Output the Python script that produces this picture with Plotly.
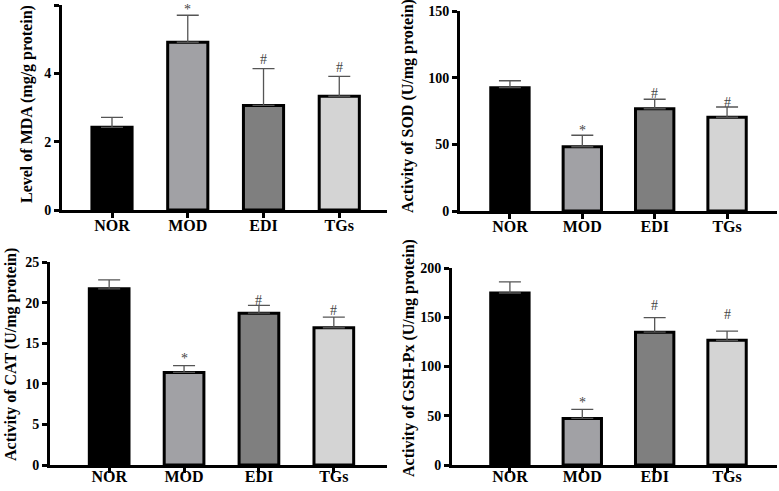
import plotly.graph_objects as go

categories = ["NOR", "MOD", "EDI", "TGs"]
bar_colors = ["#000000", "#a1a1a5", "#7f7f7f", "#d4d4d4"]

mda = [2.42, 4.91, 3.06, 3.33]
mda_err = [0.29, 0.79, 1.08, 0.58]
sod = [92.5, 48.2, 76.7, 70.3]
sod_err = [5.2, 8.6, 7.1, 7.7]
cat = [21.7, 11.4, 18.7, 16.9]
cat_err = [1.1, 0.85, 0.95, 1.3]
gsh = [174.6, 47.3, 134.8, 126.6]
gsh_err = [11.4, 9.1, 14.8, 9.4]

marks = ["", "*", "#", "#"]

titles = ["Level of MDA (mg/g protein)", "Activity of SOD (U/mg protein)",
          "Activity of CAT (U/mg protein)", "Activity of GSH-Px (U/mg protein)"]
yranges = [[0, 6], [0, 150], [0, 25], [0, 200]]
dticks = [2, 50, 5, 50]

W, H = 779, 491
FONT = "Liberation Serif"

panels = [
    dict(vals=mda, err=mda_err, xpx=(62, 387), ypx=(5, 210), xr=(-0.66, 3.63), tx=27, ty=104,
         shifts=[0, 5.5, 9, 9], so=-6),
    dict(vals=sod, err=sod_err, xpx=(460, 777), ypx=(11, 211), xr=(-0.69, 3.69), tx=408, ty=106,
         shifts=[0, 4.5, 6, 5], so=-6),
    dict(vals=cat, err=cat_err, xpx=(50, 387), ypx=(262, 465), xr=(-0.79, 3.71), tx=11, ty=355,
         shifts=[0, 7.5, 5, 7], so=-10),
    dict(vals=gsh, err=gsh_err, xpx=(452, 777), ypx=(268, 465), xr=(-0.80, 3.69), tx=409, ty=358,
         shifts=[0, 7, 12, 17], so=-10),
]

fig = go.Figure()
annotations = []
layout = {}
for i, p in enumerate(panels):
    n = "" if i == 0 else str(i + 1)
    xa, ya = "x" + n, "y" + n
    fig.add_trace(go.Bar(
        x=categories, y=p["vals"], xaxis=xa, yaxis=ya,
        marker=dict(color=bar_colors, line=dict(color="black", width=3)),
        width=0.53,
        error_y=dict(type="data", symmetric=False, array=p["err"],
                     arrayminus=[0] * 4, color="#555555", thickness=1.3, width=11),
        showlegend=False, hoverinfo="skip",
    ))
    layout["xaxis" + n] = dict(
        domain=[p["xpx"][0] / W, p["xpx"][1] / W], anchor=ya, automargin=False,
        range=list(p["xr"]), showline=True, linecolor="black", linewidth=3,
        ticks="outside", ticklen=5, tickwidth=2.5, tickcolor="black",
        showgrid=False, zeroline=False, ticklabelstandoff=p["so"],
        tickfont=dict(family=FONT, size=16, color="black", weight="bold"),
    )
    layout["yaxis" + n] = dict(
        domain=[1 - p["ypx"][1] / H, 1 - p["ypx"][0] / H], anchor=xa, automargin=False,
        range=yranges[i], dtick=dticks[i], showline=True, linecolor="black",
        linewidth=3, ticks="outside", ticklen=5, tickwidth=2.5, tickcolor="black",
        showgrid=False, zeroline=False,
        tickfont=dict(family=FONT, size=14, color="black", weight="bold"),
    )
    annotations.append(dict(
        text=titles[i], textangle=-90, xref="paper", yref="paper",
        x=p["tx"] / W, y=1 - p["ty"] / H, showarrow=False,
        font=dict(family=FONT, size=16, color="black", weight="bold"),
        xanchor="center", yanchor="middle",
    ))
    for j, m in enumerate(marks):
        if not m:
            continue
        annotations.append(dict(
            text=m, xref=xa, yref=ya, x=categories[j],
            y=p["vals"][j] + p["err"][j], yanchor="middle", yshift=p["shifts"][j],
            showarrow=False, font=dict(family=FONT, size=14, color="#444444"),
        ))

fig.update_layout(
    width=W, height=H, margin=dict(l=0, r=0, t=0, b=0),
    plot_bgcolor="white", paper_bgcolor="white",
    annotations=annotations, bargap=0.47, **layout,
)
fig.write_html("out.html", config={"displayModeBar": False},
               post_script="document.body.style.margin='0';document.body.style.overflow='hidden';")
